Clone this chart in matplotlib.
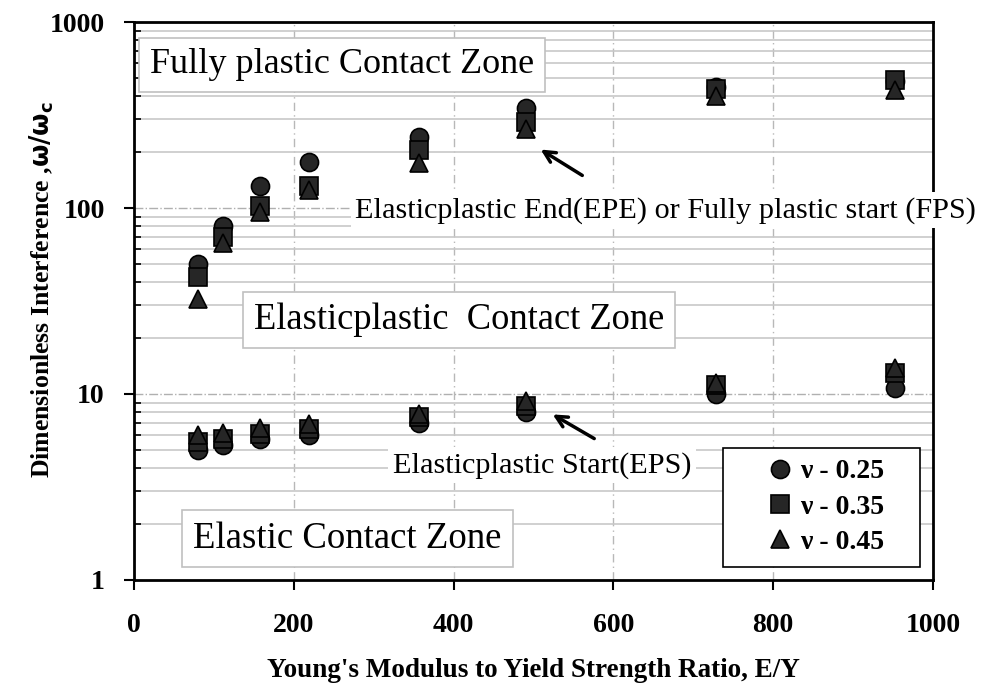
import numpy as np
import matplotlib.pyplot as plt
from matplotlib.patches import Rectangle
from matplotlib.ticker import FixedLocator, NullFormatter

plt.rcParams['font.family'] = ['Liberation Serif', 'DejaVu Serif']

# E/Y ratios
ey = [80, 112, 158, 219, 357, 490, 728, 952]

# elasticplastic end / fully plastic start, omega/omega_c
epe_025 = [50, 80, 131, 177, 240, 345, 447, 480]
epe_035 = [42.5, 70, 102, 131, 205, 290, 435, 490]
epe_045 = [32.5, 65, 95, 125, 174, 266, 400, 431]

# elasticplastic start, omega/omega_c
eps_025 = [5.0, 5.3, 5.7, 6.0, 7.0, 8.0, 10.0, 10.8]
eps_035 = [5.5, 5.7, 6.1, 6.5, 7.5, 8.6, 11.2, 13.0]
eps_045 = [6.0, 6.2, 6.6, 6.9, 7.8, 9.2, 11.5, 13.8]

labels = [u'\u03bd - 0.25', u'\u03bd - 0.35', u'\u03bd - 0.45']
markers = ['o', 's', '^']

fig = plt.figure(figsize=(9.91, 6.88), dpi=100)
ax = fig.add_axes([0.1352, 0.157, 0.8063, 0.811])

ax.set_yscale('log')
ax.set_xlim(0, 1000)
ax.set_ylim(1, 1000)

# grid
ax.yaxis.set_minor_locator(FixedLocator([m * 10 ** e for e in range(3) for m in range(2, 10)]))
ax.yaxis.set_minor_formatter(NullFormatter())
ax.grid(True, which='minor', axis='y', color='#c8c8c8', lw=1.2, ls='-')
ax.grid(True, which='major', axis='y', color='#b0b0b0', lw=1.0, ls='-.')
ax.grid(True, which='major', axis='x', color='#b8b8b8', lw=1.0, ls=(0, (6, 3, 1, 3)))
ax.set_axisbelow(True)

kw = dict(ls='none', markersize=13, markerfacecolor='#262626', markeredgecolor='black', markeredgewidth=1.2)
handles = []
for data, mk, lab in zip([epe_025, epe_035, epe_045], markers, labels):
    h, = ax.plot(ey, data, marker=mk, label=lab, zorder=4, **kw)
    handles.append(h)
for data, mk in zip([eps_025, eps_035, eps_045], markers):
    ax.plot(ey, data, marker=mk, zorder=4, **kw)

ax.set_xticks([0, 200, 400, 600, 800, 1000])
ax.set_yticks([1, 10, 100, 1000])
ax.set_yticklabels(['1', '10', '100', '1000'])
ax.tick_params(axis='both', which='major', direction='out', length=7, width=1.5, labelsize=20)
ax.tick_params(axis='x', which='major', pad=17)
ax.tick_params(axis='y', which='major', pad=14)
ax.tick_params(axis='y', which='minor', direction='in', length=5, width=1.2)
for lab in ax.get_xticklabels() + ax.get_yticklabels():
    lab.set_fontweight('bold')
for s in ax.spines.values():
    s.set_linewidth(2)

ax.set_xlabel("Young's Modulus to Yield Strength Ratio, E/Y", fontsize=19.5, fontweight='bold', labelpad=14)
ax.set_ylabel(r'Dimensionless Interference ,$\mathbf{\omega/\omega_c}$', fontsize=18.5, fontweight='bold')
ax.yaxis.set_label_coords(-0.097, 0.52)

# zone labels
box = dict(boxstyle='square,pad=0.3', facecolor='white', edgecolor='#c0c0c0', lw=1.2)
ax.text(0.02, 0.923, 'Fully plastic Contact Zone', transform=ax.transAxes, fontsize=26,
        va='center', ha='left', bbox=box, zorder=5)
ax.text(0.15, 0.466, 'Elasticplastic  Contact Zone', transform=ax.transAxes, fontsize=26.3,
        va='center', ha='left', bbox=box, zorder=5)
ax.text(0.074, 0.074, 'Elastic Contact Zone', transform=ax.transAxes, fontsize=26.5,
        va='center', ha='left', bbox=box, zorder=5)

# transition annotations
white = dict(boxstyle='square,pad=0.15', facecolor='white', edgecolor='none')
ax.annotate('Elasticplastic End(EPE) or Fully plastic start (FPS)', xy=(277, 97),
            fontsize=21.8, ha='left', va='center', annotation_clip=False, bbox=white, zorder=5)
ax.annotate('', xy=(506, 210), xytext=(564, 147),
            arrowprops=dict(arrowstyle='->', color='black', lw=2.5, mutation_scale=20), zorder=5)
ax.annotate('Elasticplastic Start(EPS)', xy=(324, 4.15), fontsize=21.8, ha='left', va='center',
            bbox=white, zorder=5)
ax.annotate('', xy=(521, 7.9), xytext=(579, 5.66),
            arrowprops=dict(arrowstyle='->', color='black', lw=2.5, mutation_scale=20), zorder=5)

# legend with a fixed frame
ax.add_patch(Rectangle((0.737, 0.0233), 0.2466, 0.2133, transform=ax.transAxes,
                       facecolor='white', edgecolor='black', lw=1.2, zorder=6))
leg = ax.legend(handles=handles, loc='center', bbox_to_anchor=(0.865, 0.131), frameon=False,
                prop={'family': 'Liberation Serif', 'weight': 'bold', 'size': 20},
                handletextpad=0.2, handlelength=1.0, labelspacing=0.35, borderpad=0.0,
                borderaxespad=0)
leg.set_zorder(7)

fig.savefig('out.png', dpi=100)
